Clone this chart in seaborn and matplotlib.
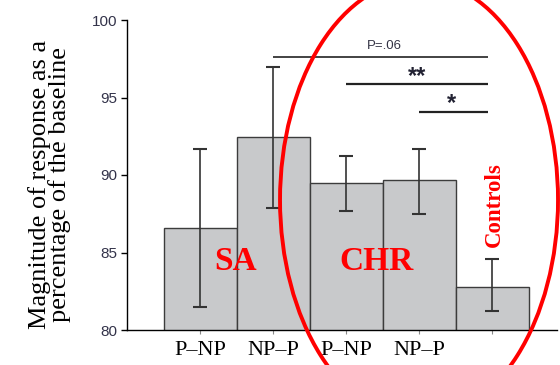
import numpy as np
import pandas as pd
import matplotlib
matplotlib.use("Agg")
import matplotlib.pyplot as plt
from matplotlib.patches import Ellipse
import seaborn as sns

# ---- data ----
groups = ["SA P–NP", "SA NP–P", "CHR P–NP", "CHR NP–P", "Controls"]
tick_labels = ["P–NP", "NP–P", "P–NP", "NP–P", ""]
means = [86.6, 92.45, 89.5, 89.65, 82.8]
err_low = [81.5, 87.9, 87.7, 87.5, 81.2]
err_high = [91.65, 96.95, 91.25, 91.7, 84.6]
yticks = [80, 85, 90, 95, 100]

# significance comparisons: (from bar, to bar, height, label)
sig_from = [1, 2, 3]
sig_to = [3.95, 3.95, 3.95]
sig_y = [97.63, 95.87, 94.06]
sig_labels = ["P=.06", "**", "*"]

df = pd.DataFrame({"group": groups, "value": means})

sns.set_style("ticks")
plt.rcParams["font.family"] = ["Liberation Serif", "DejaVu Serif"]

fig = plt.figure(figsize=(5.6, 3.65), dpi=100)
ax = fig.add_axes([127 / 560, 35 / 365, 430 / 560, 310 / 365])

sns.barplot(data=df, x="group", y="value", order=groups, color="#c8c9cb",
            errorbar=None, width=1.0, edgecolor="#3c3c3c", linewidth=1.0,
            saturation=1, ax=ax)

x = np.arange(len(groups))
m = np.array(means)
yerr = np.vstack([m - np.array(err_low), np.array(err_high) - m])
ax.errorbar(x, m, yerr=yerr, fmt="none", ecolor="#333333", elinewidth=1.2,
            capsize=5, capthick=1.5, zorder=3)

ax.set_xlim(-1.0, 4.89)
ax.set_ylim(80, 100)
ax.set_yticks(yticks)
ax.set_yticklabels([str(t) for t in yticks], family="Liberation Sans",
                   fontsize=11, color="#33334a")
ax.set_xticks(x)
ax.set_xticklabels(tick_labels, fontsize=16, color="black")
ax.tick_params(axis="x", length=3, color="#888888", pad=5)
ax.tick_params(axis="y", length=4, width=1, color="black", pad=3)
ax.set_xlabel("")
ax.set_ylabel("")
for s in ["top", "right"]:
    ax.spines[s].set_visible(False)
for s in ["left", "bottom"]:
    ax.spines[s].set_color("black")
    ax.spines[s].set_linewidth(1.0)

# significance lines
text_x = [2.53, 2.97, 3.45]
text_y = [98.34, 95.95, 94.2]
text_fs = [9.5, 17, 17]
for i in range(3):
    ax.plot([sig_from[i], sig_to[i]], [sig_y[i], sig_y[i]], color="#222222",
            lw=1.2 if i == 0 else 1.6, clip_on=False, solid_capstyle="butt")
    ax.text(text_x[i], text_y[i], sig_labels[i], ha="center",
            va="center" if i == 0 else "baseline", fontsize=text_fs[i],
            family="Liberation Sans", color="#333344" if i == 0 else "#222233",
            fontweight="normal" if i == 0 else "bold")

# red annotations
red = "#ff0000"
ax.text(0.49, 84.45, "SA", ha="center", va="center", fontsize=24,
        fontweight="bold", color=red)
ax.text(2.42, 84.45, "CHR", ha="center", va="center", fontsize=24,
        fontweight="bold", color=red)
ax.text(4.03, 88.06, "Controls", ha="center", va="center", fontsize=16.5,
        fontweight="bold", color=red, rotation=90)

ell = Ellipse((3.0, 88.39), width=3.808, height=28.39, fill=False,
              edgecolor=red, lw=2.8, clip_on=False, zorder=5)
ax.add_patch(ell)

fig.text(49.5 / 560, 1 - 184 / 365,
         "Magnitude of response as a\npercentage of the baseline",
         rotation=90, ha="center", va="center", fontsize=19,
         linespacing=0.82, multialignment="center", color="black")

fig.savefig("out.png", dpi=100)
